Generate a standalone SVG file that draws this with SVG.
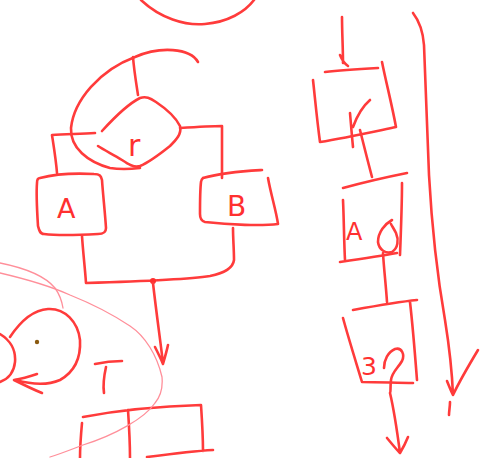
<svg xmlns="http://www.w3.org/2000/svg" width="487" height="458" viewBox="0 0 487 458">
<style>
.s{fill:none;stroke:#ff3b3b;stroke-width:2.6;stroke-linecap:round;stroke-linejoin:round}
.t{fill:none;stroke:#ff8f9a;stroke-width:1.3;stroke-linecap:round}
.l{fill:#ff3030;font-family:"DejaVu Sans",sans-serif}
</style>
<rect width="487" height="458" fill="#ffffff"/>
<g id="top-arc"><path class="s" d="M141,0 C160,18 185,26 205,24 C228,22 245,12 254,0"/></g>
<g id="loop"><path class="s" d="M198,62 C190,48 160,46 135,57 C100,70 74,100 71,128 C70,148 88,162 110,168 C122,170 132,169 140,168"/></g>
<g id="diamond-r">
<path class="s" d="M102,131 C112,120 128,104 140,98 C146,96 150,98 156,102 C168,110 176,118 180,126 C182,134 176,140 170,146 C160,154 150,162 140,166 C134,168 128,164 122,160 C112,154 104,150 98,146"/>
<text class="l" x="128" y="156" font-size="30">r</text>
</g>
<g id="node-A">
<path class="s" d="M40,178 C55,174 75,173 94,174 C100,174 101,176 102,180 C103,195 105,212 106,228 C106,233 103,234 98,234 C80,235 60,236 44,234 C40,234 39,230 38,226 C37,210 36,195 37,183 C37,180 38,178 40,178"/>
<text class="l" x="57" y="218" font-size="27">A</text>
</g>
<g id="node-B">
<path class="s" d="M203,178 C225,172 245,171 262,170 M268,178 C271,195 276,210 278,224 C262,226 230,225 205,222 C201,221 200,218 200,214 C200,202 200,190 201,182 C201,180 202,179 203,178"/>
<text class="l" x="227" y="216" font-size="28">B</text>
</g>
<g id="node-T"><path class="s" d="M95,364 C104,362 114,361 122,361 M106,367 C104,376 103,386 104,393"/></g>
<g id="bottom-box"><path class="s" d="M82,423 C81,434 80,446 80,458 M83,417 C120,410 165,406 201,405 C202,420 203,435 203,451 M147,457 C170,454 195,451 213,450 M128,410 C129,425 130,442 130,458"/></g>
<g id="circle-node">
<path class="s" d="M10,337 C20,322 32,310 48,309 C65,308 78,322 80,340 C81,358 74,372 60,380 C46,386 30,384 16,380"/>
<path class="s" d="M37,374 C28,377 20,379 14,380 C22,384 32,389 42,393"/>
<path class="s" d="M0,334 C10,340 16,350 15,362 C14,372 8,379 0,382"/>
<circle cx="37" cy="342" r="2.2" fill="#8a5a10"/>
</g>
<g id="r-top-box">
<path class="s" d="M325,72 C342,70 360,69 378,68 M382,62 C386,82 392,105 396,127 C372,132 345,138 320,142 C317,120 315,98 313,80"/>
<path class="s" d="M350,113 C351,125 352,137 353,147 M353,127 C357,116 363,106 370,100"/>
</g>
<g id="A-mid-box">
<path class="s" d="M343,188 C365,182 387,177 407,173 M343,200 C344,222 344,242 345,260 M340,262 C360,259 380,256 397,253 M402,183 C402,205 401,230 400,255"/>
<text class="l" x="346" y="240" font-size="24">A</text>
</g>
<g id="bottom-right-box">
<path class="s" d="M353,310 C375,306 397,302 417,300 M343,318 C349,340 356,362 362,382 C380,382 398,383 413,383 M410,302 C413,328 415,354 417,380"/>
<text class="l" x="361" y="375" font-size="25">3</text>
</g>
<g id="connectors">
<path class="s" d="M133,57 C134,70 136,82 138,95"/>
<path class="s" d="M95,133 C80,134 65,134 52,135 C54,148 56,160 57,173"/>
<path class="s" d="M180,128 C195,127 210,126 222,126 C222,144 222,161 222,178"/>
<path class="s" d="M82,236 C83,252 85,268 86,283 C120,282 185,280 210,276 C225,273 233,268 234,260 C234,250 233,238 233,228"/>
<circle cx="153" cy="281" r="3" fill="#ff3030"/>
<path class="s" d="M153,283 C156,310 160,338 163,363 M155,347 C158,353 161,359 163,364 C165,357 167,350 168,345"/>
<path class="t" d="M0,263 C25,268 45,276 55,288 C60,295 62,302 63,308"/>
<path class="t" d="M0,273 C30,280 50,286 70,295 C95,305 115,316 130,326 C145,336 157,355 162,377 C163,388 160,397 155,403 C145,418 115,435 83,445 C70,450 60,454 50,457"/>
<path class="s" d="M342,17 C342,32 343,48 343,63 M340,55 C342,60 345,64 348,66"/>
<path class="s" d="M360,130 C364,146 368,162 372,177"/>
<path class="s" d="M392,220 C385,224 378,232 378,242 C379,250 386,254 392,252 C398,248 399,240 396,233 C394,229 392,226 391,224 M383,253 C384,270 386,286 387,302"/>
<path class="s" d="M384,368 C384,360 388,352 395,349 C402,347 405,355 402,361 C398,368 392,372 391,380 C390,388 391,392 390,393 M390,393 C394,410 397,430 400,453 M387,438 C392,444 396,449 400,453 C403,448 406,442 408,437"/>
<path class="s" d="M413,13 C420,22 423,32 424,45 C426,90 427,130 429,175 C432,230 438,280 445,320 C449,345 452,370 453,395 M447,381 C449,386 451,391 453,395 C460,380 469,365 478,350 M450,402 C450,407 449,411 449,415"/>
</g>
</svg>
